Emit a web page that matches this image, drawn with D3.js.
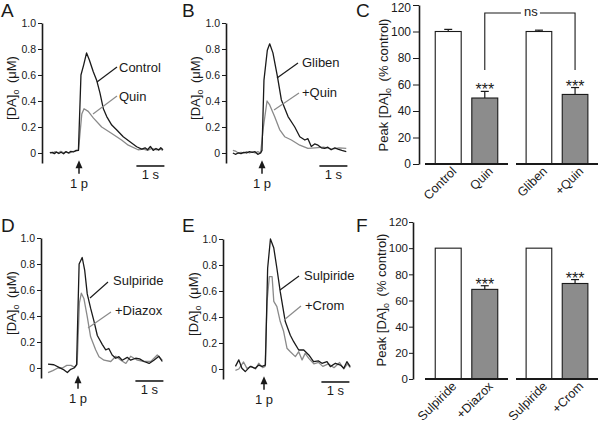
<!DOCTYPE html>
<html><head><meta charset="utf-8">
<script src="https://cdn.jsdelivr.net/npm/d3@7"></script>
<style>
body{margin:0;background:#fff}
svg{display:block}
text{font-family:"Liberation Sans",Arial,Helvetica,sans-serif;fill:#1a1a1a}
</style>
</head><body>
<svg id="c" width="600" height="423"></svg>
<script>
// ---------- DATA ----------
// traces: [time (s, relative to the 1-pulse stimulus), [DA]o (uM)]
const traceA_control = [[-1.04,0.0],[-0.95,0.005],[-0.88,-0.005],[-0.8,0.008],[-0.72,-0.004],[-0.64,0.006],[-0.55,-0.006],[-0.47,0.01],[-0.38,0.0],[-0.3,0.012],[-0.2,0.008],[-0.1,0.02],[-0.02,0.02],[0.07,0.6],[0.17,0.68],[0.27,0.77],[0.37,0.715],[0.51,0.625],[0.63,0.56],[0.75,0.46],[0.87,0.34],[0.99,0.28],[1.17,0.215],[1.35,0.177],[1.58,0.125],[1.82,0.087],[2.06,0.048],[2.24,0.03],[2.36,0.04],[2.45,0.025],[2.55,0.05],[2.65,0.02],[2.75,0.035],[2.85,0.022],[2.92,0.04],[3.0,0.025]];
const traceA_quin = [[-1.04,0.005],[-0.95,0.0],[-0.85,0.01],[-0.75,0.0],[-0.65,0.012],[-0.55,0.002],[-0.45,0.008],[-0.35,-0.002],[-0.25,0.01],[-0.12,0.015],[-0.02,0.02],[0.1,0.3],[0.18,0.34],[0.33,0.32],[0.51,0.27],[0.81,0.2],[1.17,0.15],[1.52,0.1],[1.76,0.06],[2.11,0.025],[2.3,0.03],[2.45,0.02],[2.6,0.035],[2.75,0.025],[2.9,0.03],[3.0,0.02]];
const traceB_gliben = [[-1.04,0.0],[-0.95,-0.01],[-0.85,0.0],[-0.75,-0.005],[-0.65,0.005],[-0.55,0.0],[-0.45,0.01],[-0.35,0.005],[-0.25,0.01],[-0.15,-0.01],[-0.05,0.0],[0.0,0.02],[0.07,0.56],[0.19,0.79],[0.275,0.84],[0.39,0.77],[0.55,0.59],[0.69,0.41],[0.93,0.28],[1.17,0.2],[1.35,0.125],[1.53,0.1],[1.64,0.11],[1.76,0.05],[1.88,0.07],[2.0,0.06],[2.12,0.04],[2.24,0.035],[2.35,0.045],[2.47,0.025],[2.6,0.04],[2.71,0.03],[2.85,0.02],[3.01,0.01]];
const traceB_quin = [[-1.04,0.02],[-0.95,0.015],[-0.85,0.0],[-0.75,0.005],[-0.65,0.0],[-0.55,0.01],[-0.45,0.0],[-0.35,0.008],[-0.25,0.0],[-0.15,0.01],[-0.05,0.0],[0.05,0.2],[0.18,0.4],[0.275,0.37],[0.45,0.28],[0.63,0.18],[0.81,0.125],[1.05,0.1],[1.35,0.06],[1.64,0.035],[1.9,0.04],[2.2,0.045],[2.5,0.03],[2.75,0.04],[3.01,0.035]];
const traceD_sulpiride = [[-1.07,0.03],[-0.86,0.025],[-0.68,0.005],[-0.5,-0.015],[-0.38,-0.035],[-0.26,-0.01],[-0.14,0.0],[-0.05,0.025],[0.04,0.8],[0.15,0.85],[0.24,0.75],[0.33,0.57],[0.45,0.46],[0.57,0.36],[0.69,0.25],[0.87,0.18],[0.99,0.14],[1.1,0.15],[1.22,0.1],[1.35,0.075],[1.46,0.087],[1.58,0.06],[1.76,0.082],[1.88,0.06],[2.06,0.075],[2.2,0.07],[2.36,0.05],[2.54,0.035],[2.71,0.06],[2.89,0.09],[3.01,0.05]];
const traceD_diazox = [[-1.07,-0.035],[-0.9,-0.02],[-0.72,0.0],[-0.56,0.0],[-0.4,0.02],[-0.25,0.02],[-0.12,0.005],[-0.03,0.03],[0.05,0.5],[0.12,0.575],[0.21,0.535],[0.33,0.395],[0.45,0.24],[0.63,0.14],[0.75,0.087],[0.93,0.06],[1.17,0.05],[1.35,0.09],[1.53,0.06],[1.71,0.035],[1.88,0.09],[2.12,0.06],[2.36,0.05],[2.6,0.05],[2.83,0.1],[3.01,0.06]];
const traceE_sulpiride = [[-1.02,0.02],[-0.9,0.07],[-0.79,0.005],[-0.67,-0.02],[-0.49,0.02],[-0.31,0.005],[-0.19,0.03],[-0.07,0.02],[0.05,0.03],[0.13,0.775],[0.23,1.0],[0.35,0.93],[0.46,0.775],[0.58,0.595],[0.76,0.365],[0.94,0.26],[1.06,0.21],[1.24,0.146],[1.42,0.146],[1.6,0.108],[1.77,0.056],[1.95,0.062],[2.07,0.044],[2.25,0.056],[2.37,0.018],[2.55,0.044],[2.73,0.03],[2.85,0.005],[2.96,0.056],[3.08,0.018]];
const traceE_crom = [[-1.02,-0.01],[-0.9,0.0],[-0.73,0.054],[-0.61,0.005],[-0.45,0.02],[-0.3,0.0],[-0.19,0.044],[-0.05,0.01],[0.04,0.02],[0.11,0.52],[0.19,0.71],[0.29,0.71],[0.35,0.52],[0.46,0.48],[0.58,0.365],[0.7,0.29],[0.82,0.16],[0.94,0.133],[1.12,0.095],[1.24,0.133],[1.36,0.07],[1.47,0.12],[1.6,0.082],[1.78,0.04],[1.95,0.05],[2.1,0.02],[2.3,0.04],[2.5,0.01],[2.7,0.05],[2.85,0.0],[2.98,0.04],[3.08,0.01]];
const traceTickValues = [0,0.2,0.4,0.6,0.8,1.0];
const traceTickLabels = ["0","0.2","0.4","0.6","0.8","1.0"];

// bar charts: peak [DA]o (% control)
const barCategoriesC = ["Control","Quin","Gliben","+Quin"];
const barValuesC = [100,49.8,100,52.5];
const barErrorsC = [1.6,5,1,5.2];
const barSigC = ["","***","","***"];
const barCategoriesF = ["Sulpiride","+Diazox","Sulpiride","+Crom"];
const barValuesF = [100,68.5,100,73];
const barErrorsF = [0,2.8,0,3];
const barSigF = ["","***","","***"];
const barTickValues = [0,20,40,60,80,100,120];
const nsBracket = {from:1, to:3, top:114, bottom:71, label:"ns"};

// ---------- DRAWING ----------
const svg = d3.select("#c");
const INK = "#1a1a1a", GREY = "#8a8a8a", BARGREY = "#8c8c8c";

function panelLetter(t, x, y){
  svg.append("text").attr("x",x).attr("y",y).attr("font-size",19).text(t);
}
function yLabelDA(x, cy){
  const t = svg.append("text").attr("transform",`translate(${x},${cy}) rotate(-90)`)
    .attr("text-anchor","middle").attr("font-size",13);
  t.append("tspan").text("[DA]");
  t.append("tspan").attr("font-size",9).attr("dy",3).text("o");
  t.append("tspan").attr("dy",-3).text("\u2002(\u03bcM)");
}
function yLabelPeak(x, cy){
  const t = svg.append("text").attr("transform",`translate(${x},${cy}) rotate(-90)`)
    .attr("text-anchor","middle").attr("font-size",13);
  t.append("tspan").text("Peak [DA]");
  t.append("tspan").attr("font-size",9).attr("dy",3).text("o");
  t.append("tspan").attr("dy",-3).text("\u2002(% control)");
}

function drawTrace(p){
  const g = svg.append("g");
  const x = d3.scaleLinear().domain([0,1]).range([p.stimX, p.stimX+28]);
  const y = d3.scaleLinear().domain([-0.077,1]).range([p.zeroY+10, p.zeroY-130]);
  const ax = g.append("g").attr("transform",`translate(${p.axisX},0)`)
    .call(d3.axisLeft(y).tickValues(traceTickValues).tickFormat((d,i)=>traceTickLabels[i]).tickSize(4).tickSizeOuter(0).tickPadding(2));
  ax.select(".domain").attr("stroke",INK).attr("stroke-width",1.6);
  ax.selectAll(".tick line").attr("stroke",INK).attr("stroke-width",1);
  ax.selectAll(".tick text").attr("font-size",10.5).attr("fill","#333").attr("font-family",'"Liberation Sans",Arial,sans-serif');
  const line = d3.line().x(d=>x(d[0])).y(d=>y(d[1]));
  p.series.forEach(s=>{
    g.append("path").datum(s.data).attr("d",line).attr("fill","none")
      .attr("stroke",s.color).attr("stroke-width",1.3).attr("stroke-linejoin","round");
  });
  p.series.forEach(s=>{
    g.append("line").attr("x1",s.leader[0]).attr("y1",s.leader[1]).attr("x2",s.leader[2]).attr("y2",s.leader[3])
      .attr("stroke",s.color).attr("stroke-width",1.2);
    g.append("text").attr("x",s.lx).attr("y",s.ly).attr("font-size",13).text(s.label);
  });
  // stimulus arrow
  const sx = x(0), tip = y(-0.055);
  g.append("path").attr("d",`M${sx},${tip} L${sx-3.5},${tip+8} L${sx+3.5},${tip+8} Z`).attr("fill",INK);
  g.append("line").attr("x1",sx).attr("x2",sx).attr("y1",tip+6).attr("y2",y(-0.16)).attr("stroke",INK).attr("stroke-width",1.5);
  g.append("text").attr("x",sx).attr("y",y(-0.27)).attr("text-anchor","middle").attr("font-size",13).text("1 p");
  // 1 s scale bar
  const b0 = x(2.05), b1 = x(3.05), by = y(-0.1);
  g.append("line").attr("x1",b0).attr("x2",b1).attr("y1",by).attr("y2",by).attr("stroke",INK).attr("stroke-width",1.6);
  g.append("text").attr("x",(b0+b1)/2).attr("y",by+13).attr("text-anchor","middle").attr("font-size",13).text("1 s");
}

function drawBars(p){
  const g = svg.append("g");
  const y = d3.scaleLinear().domain([0,120]).range([p.zeroY, p.topY]);
  const ax = g.append("g").attr("transform",`translate(${p.axisX},0)`)
    .call(d3.axisLeft(y).tickValues(barTickValues).tickSize(p.tickSize).tickSizeOuter(0).tickPadding(p.tickPad));
  ax.select(".domain").attr("stroke",INK).attr("stroke-width",1.6);
  ax.selectAll(".tick line").attr("stroke",INK);
  ax.selectAll(".tick text").attr("font-size",p.tickFont).attr("fill","#333").attr("font-family",'"Liberation Sans",Arial,sans-serif')
    .attr("dy", d => y(d) < 10 ? "0.5em" : "0.32em");
  const groups = [[425,508],[516,598]];
  const centers = [];
  groups.forEach((rg,gi)=>{
    const xb = d3.scaleBand().domain([0,1]).range(rg).paddingInner(0.29).paddingOuter(0.28);
    [0,1].forEach(k=>{
      const i = gi*2+k;
      const v = p.values[i], e = p.errors[i];
      const x0 = xb(k), w = xb.bandwidth(), cx = x0+w/2;
      centers.push(cx);
      if(e>0){
        g.append("line").attr("x1",cx).attr("x2",cx).attr("y1",y(v)).attr("y2",y(v+e)).attr("stroke",INK).attr("stroke-width",1.2);
        g.append("line").attr("x1",cx-4).attr("x2",cx+4).attr("y1",y(v+e)).attr("y2",y(v+e)).attr("stroke",INK).attr("stroke-width",1.2);
      }
      g.append("rect").attr("x",x0).attr("y",y(v)).attr("width",w).attr("height",y(0)-y(v))
        .attr("fill",k===0?"#fff":BARGREY).attr("stroke",INK).attr("stroke-width",1.1);
      if(p.sig[i]) g.append("text").attr("x",cx).attr("y",y(v+e)+4).attr("text-anchor","middle").attr("font-size",16).text(p.sig[i]);
      g.append("text").attr("transform",`translate(${cx+9},${y(0)+8}) rotate(-45)`)
        .attr("text-anchor","end").attr("font-size",12.5).text(p.cats[i]);
    });
    g.append("line").attr("x1",rg[0]).attr("x2",rg[1]).attr("y1",y(0)).attr("y2",y(0)).attr("stroke",INK).attr("stroke-width",2);
  });
  if(p.bracket){
    const b = p.bracket, xl = centers[b.from], xr = centers[b.to], yt = y(b.top), yb = y(b.bottom);
    const mid = (xl+xr)/2 + 1;
    g.append("path").attr("d",`M${xl},${yb} V${yt} H${mid-10} M${mid+9},${yt} H${xr} V${yb}`)
      .attr("fill","none").attr("stroke",INK).attr("stroke-width",1.1);
    g.append("text").attr("x",mid).attr("y",yt+3.5).attr("text-anchor","middle").attr("font-size",13).text(b.label);
  }
}

// Panel A
panelLetter("A",1,17); yLabelDA(16,88);
drawTrace({axisX:42, zeroY:153, stimX:79, series:[
  {data:traceA_quin, color:GREY, label:"Quin", lx:119, ly:101, leader:[117,96,93,114]},
  {data:traceA_control, color:INK, label:"Control", lx:119, ly:72, leader:[117,67,97,82]}
]});
// Panel B
panelLetter("B",182,17); yLabelDA(200,88);
drawTrace({axisX:226, zeroY:153, stimX:262, series:[
  {data:traceB_quin, color:GREY, label:"+Quin", lx:302, ly:97, leader:[299,93,274,110]},
  {data:traceB_gliben, color:INK, label:"Gliben", lx:302, ly:67, leader:[298,63,277,78]}
]});
// Panel C
panelLetter("C",356,17); yLabelPeak(388,85);
drawBars({axisX:419, zeroY:164, topY:5, tickSize:6, tickPad:2, tickFont:12, cats:barCategoriesC, values:barValuesC, errors:barErrorsC, sig:barSigC, bracket:nsBracket});
// Panel D
panelLetter("D",1,232); yLabelDA(16,303);
drawTrace({axisX:41, zeroY:368, stimX:78, series:[
  {data:traceD_diazox, color:GREY, label:"+Diazox", lx:115, ly:315, leader:[111,312,88,328]},
  {data:traceD_sulpiride, color:INK, label:"Sulpiride", lx:113, ly:285, leader:[108,282,90,298]}
]});
// Panel E
panelLetter("E",182,232); yLabelDA(198,304);
drawTrace({axisX:223, zeroY:369, stimX:264, series:[
  {data:traceE_crom, color:GREY, label:"+Crom", lx:305, ly:310, leader:[301,306,284,320]},
  {data:traceE_sulpiride, color:INK, label:"Sulpiride", lx:304, ly:280, leader:[299,276,280,290]}
]});
// Panel F
panelLetter("F",356,232); yLabelPeak(386,300);
drawBars({axisX:413, zeroY:379, topY:222, tickSize:4, tickPad:1, tickFont:11.5, cats:barCategoriesF, values:barValuesF, errors:barErrorsF, sig:barSigF});
</script>
</body></html>
